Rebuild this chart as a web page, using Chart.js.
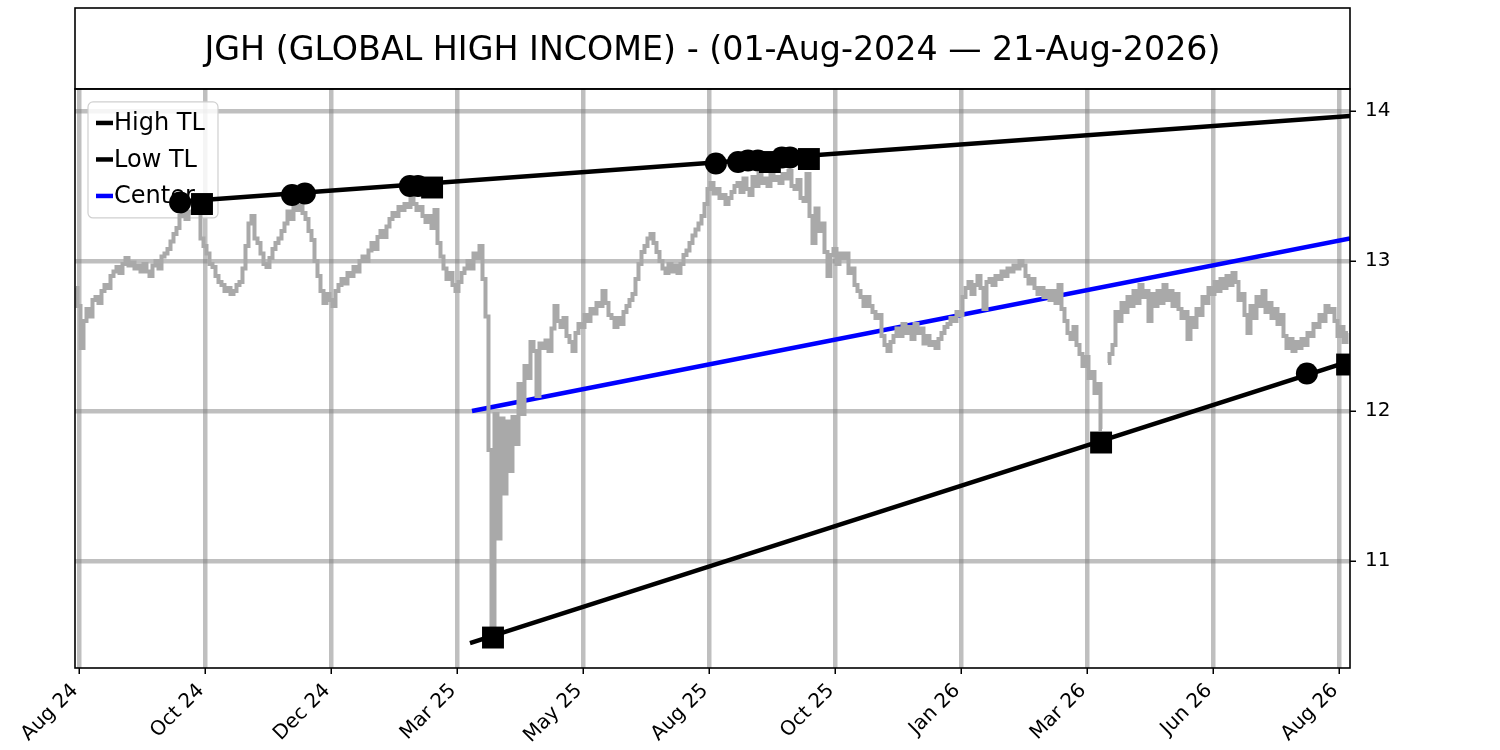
<!DOCTYPE html>
<html>
<head>
<meta charset="utf-8">
<script src="https://cdn.jsdelivr.net/npm/chart.js@4.4.1/dist/chart.umd.min.js"></script>
<style>
  html, body { margin: 0; padding: 0; background: #fff; }
</style>
</head>
<body>
<canvas id="chart" width="1500" height="750"></canvas>
<script>
// session index 0..424, one close per session
const prices = [
  12.82, 12.70, 12.42, 12.60, 12.68, 12.63, 12.74, 12.76, 12.72, 12.80,
  12.84, 12.82, 12.90, 12.93, 12.96, 12.92, 12.98, 13.02, 12.97, 12.99,
  12.95, 12.97, 12.93, 12.98, 12.93, 12.90, 12.97, 13.00, 12.95, 13.03,
  13.05, 13.08, 13.13, 13.18, 13.22, 13.30, 13.38, 13.28, 13.33, 13.32,
  13.38, 13.36, 13.15, 13.10, 13.05, 12.98, 12.96, 12.90, 12.86, 12.84,
  12.80, 12.82, 12.78, 12.80, 12.84, 12.86, 12.95, 13.10, 13.25, 13.30,
  13.15, 13.12, 13.05, 12.98, 12.96, 13.02, 13.08, 13.12, 13.15, 13.20,
  13.25, 13.33, 13.28, 13.36, 13.34, 13.37, 13.32, 13.28, 13.20, 13.14,
  13.00, 12.90, 12.80, 12.72, 12.78, 12.74, 12.70, 12.80, 12.84, 12.88,
  12.85, 12.92, 12.90, 12.96, 12.93, 13.00, 13.03, 13.00, 13.07, 13.12,
  13.08, 13.16, 13.20, 13.16, 13.23, 13.28, 13.32, 13.30, 13.36, 13.34,
  13.38, 13.36, 13.42, 13.38, 13.34, 13.36, 13.30, 13.26, 13.30, 13.22,
  13.34, 13.12, 13.03, 12.95, 12.88, 12.92, 12.84, 12.80, 12.86, 12.92,
  12.95, 13.00, 12.95, 13.05, 13.02, 13.10, 12.88, 12.63, 11.74, 10.54,
  11.98, 11.15, 11.95, 11.45, 11.93, 11.60, 11.96, 11.78, 12.18, 11.98,
  12.30, 12.22, 12.46, 12.40, 12.10, 12.45, 12.42, 12.47, 12.40, 12.55,
  12.70, 12.60, 12.56, 12.62, 12.50, 12.46, 12.40, 12.52, 12.58, 12.56,
  12.64, 12.60, 12.68, 12.65, 12.72, 12.70, 12.80, 12.72, 12.64, 12.62,
  12.56, 12.62, 12.58, 12.66, 12.70, 12.74, 12.78, 12.88, 12.98, 13.06,
  13.10, 13.15, 13.18, 13.12, 13.06, 13.00, 12.95, 12.92, 12.98, 12.93,
  12.97, 12.92, 12.98, 13.04, 13.07, 13.12, 13.17, 13.21, 13.25, 13.30,
  13.38, 13.48, 13.52, 13.45, 13.48, 13.42, 13.44, 13.38, 13.42, 13.46,
  13.50, 13.52, 13.46, 13.55, 13.48, 13.44, 13.56, 13.50, 13.58, 13.52,
  13.55, 13.50, 13.58, 13.54, 13.56, 13.52, 13.58, 13.55, 13.60, 13.50,
  13.48, 13.54, 13.42, 13.40, 13.58, 13.30, 13.12, 13.35, 13.20, 13.25,
  13.06, 12.90, 13.04, 13.08, 12.98, 13.05, 13.02, 13.05, 12.92, 12.95,
  12.84, 12.80, 12.76, 12.70, 12.76, 12.70, 12.66, 12.62, 12.64, 12.50,
  12.44, 12.40, 12.46, 12.50, 12.55, 12.50, 12.58, 12.52, 12.56, 12.48,
  12.58, 12.52, 12.55, 12.45, 12.50, 12.44, 12.46, 12.42, 12.48, 12.52,
  12.56, 12.58, 12.62, 12.60, 12.66, 12.64, 12.76, 12.82, 12.86, 12.78,
  12.84, 12.90, 12.82, 12.68, 12.86, 12.88, 12.84, 12.90, 12.88, 12.93,
  12.90, 12.95, 12.93, 12.97, 12.95, 13.00, 12.97, 12.90, 12.85, 12.88,
  12.82, 12.78, 12.82, 12.76, 12.80, 12.74, 12.80, 12.72, 12.84, 12.68,
  12.60, 12.52, 12.48, 12.56, 12.44, 12.38, 12.30, 12.36, 12.22, 12.26,
  12.12, 12.18, 11.88, null, 12.32, 12.38, 12.44, 12.66, 12.60, 12.72,
  12.66, 12.76, 12.70, 12.80, 12.72, 12.84, 12.76, 12.80, 12.60, 12.78,
  12.70, 12.80, 12.72, 12.84, 12.74, 12.80, 12.70, 12.78, 12.68, 12.62,
  12.66, 12.48, 12.62, 12.56, 12.68, 12.64, 12.76, 12.72, 12.82, 12.78,
  12.86, 12.80, 12.88, 12.82, 12.90, 12.84, 12.92, 12.86, 12.74, 12.78,
  12.64, 12.52, 12.70, 12.62, 12.76, 12.70, 12.80, 12.66, 12.72, 12.62,
  12.68, 12.58, 12.64, 12.50, 12.42, 12.48, 12.40, 12.46, 12.42, 12.48,
  12.44, 12.52, 12.50, 12.58, 12.56, 12.64, 12.60, 12.70, 12.66, 12.68,
  12.60, 12.50, 12.56, 12.46, 12.52
];

const tickPos = [1, 43, 85, 127, 169, 211, 253, 295, 337, 379, 421];
const tickLabels = ["Aug 24", "Oct 24", "Dec 24", "Mar 25", "May 25", "Aug 25",
                    "Oct 25", "Jan 26", "Mar 26", "Jun 26", "Aug 26"];
const yTicks = [11, 12, 13, 14];

// trend lines (start, end)
const highTLx = [32, 424.67];
const highTLy = [13.392, 13.967];
const lowTLx = [131.33, 424.67];
const lowTLy = [10.453, 12.333];
const centerX = [132, 424.67];
const centerY = [12.0, 13.15];

// touch points
const highCircX = [34.7, 72, 76.3, 111.3, 114, 213.3, 220.7, 224, 227.3, 235.3, 238];
const highCircY = [13.39, 13.44, 13.45, 13.50, 13.50, 13.65, 13.66, 13.67, 13.67, 13.69, 13.69];
const highSqX = [42, 118.7, 231.3, 244.3];
const highSqY = [13.38, 13.49, 13.66, 13.68];
const lowCircX = [410.3];
const lowCircY = [12.25];
const lowSqX = [139, 341.7, 423.7];
const lowSqY = [10.49, 11.79, 12.31];

const pts = (xs, ys) => xs.map((x, i) => ({ x: x, y: ys[i] }));

const legendItems = [
  { label: "High TL", color: "#000000" },
  { label: "Low TL", color: "#000000" },
  { label: "Center", color: "#0000ff" },
];

const FONT = "'DejaVu Sans', sans-serif";

const framePlugin = {
  id: "frame",
  beforeDatasetsDraw(chart) {
    // legend sits under the series
    const ctx = chart.ctx;
    const a = chart.chartArea;
    const bx = a.left + 13, by = a.top + 13, bw = 130, bh = 116;
    ctx.save();
    ctx.beginPath();
    ctx.roundRect(bx, by, bw, bh, 5);
    ctx.fillStyle = "rgba(255,255,255,0.85)";
    ctx.fill();
    ctx.strokeStyle = "#d0d0d0";
    ctx.lineWidth = 1.2;
    ctx.stroke();
    ctx.font = "24px " + FONT;
    ctx.textBaseline = "middle";
    legendItems.forEach((it, i) => {
      const y = by + 21 + i * 36.5;
      ctx.strokeStyle = it.color;
      ctx.lineWidth = 4.5;
      ctx.beginPath();
      ctx.moveTo(bx + 8, y);
      ctx.lineTo(bx + 25, y);
      ctx.stroke();
      ctx.fillStyle = "#000";
      ctx.fillText(it.label, bx + 26, y + 1);
    });
    ctx.restore();
  },
  afterDraw(chart) {
    const ctx = chart.ctx;
    const a = chart.chartArea;
    ctx.save();
    ctx.strokeStyle = "#000";
    ctx.lineWidth = 1.6;
    ctx.strokeRect(a.left, 8, a.right - a.left, a.top - 8);
    ctx.strokeRect(a.left, a.top, a.right - a.left, a.bottom - a.top);
    ctx.restore();
  },
};

new Chart(document.getElementById("chart").getContext("2d"), {
  type: "line",
  data: {
    datasets: [
      {
        label: "High TL",
        data: pts(highTLx, highTLy),
        borderColor: "#000000",
        borderWidth: 4.5,
        pointRadius: 0,
        order: 3,
      },
      {
        label: "Low TL",
        data: pts(lowTLx, lowTLy),
        borderColor: "#000000",
        borderWidth: 4.5,
        pointRadius: 0,
        order: 3,
      },
      {
        label: "Center",
        data: pts(centerX, centerY),
        borderColor: "#0000ff",
        borderWidth: 4.5,
        pointRadius: 0,
        order: 3,
      },
      {
        label: "Price",
        data: prices.map((v, i) => ({ x: i, y: v })),
        borderColor: "#a9a9a9",
        borderWidth: 4,
        pointRadius: 0,
        stepped: "middle",
        spanGaps: false,
        order: 2,
      },
      {
        label: "High touches",
        data: pts(highCircX, highCircY),
        showLine: false,
        pointStyle: "circle",
        pointRadius: 11,
        pointBorderWidth: 0,
        pointBackgroundColor: "#000",
        order: 1,
      },
      {
        label: "High touches 2",
        data: pts(highSqX, highSqY),
        showLine: false,
        pointStyle: "rect",
        pointRadius: 15.5,
        pointBorderWidth: 0,
        pointBackgroundColor: "#000",
        order: 1,
      },
      {
        label: "Low touches",
        data: pts(lowCircX, lowCircY),
        showLine: false,
        pointStyle: "circle",
        pointRadius: 11,
        pointBorderWidth: 0,
        pointBackgroundColor: "#000",
        order: 1,
      },
      {
        label: "Low touches 2",
        data: pts(lowSqX, lowSqY),
        showLine: false,
        pointStyle: "rect",
        pointRadius: 15.5,
        pointBorderWidth: 0,
        pointBackgroundColor: "#000",
        order: 1,
      },
    ],
  },
  options: {
    responsive: false,
    animation: false,
    devicePixelRatio: 1,
    layout: { padding: { left: 75, top: 0, right: 0, bottom: 0 } },
    scales: {
      x: {
        type: "linear",
        min: -0.33,
        max: 424.67,
        afterBuildTicks: (scale) => {
          scale.ticks = tickPos.map((v) => ({ value: v }));
        },
        afterFit: (scale) => {
          scale.height = 82;
        },
        ticks: {
          minRotation: 45,
          maxRotation: 45,
          autoSkip: false,
          color: "#000",
          padding: 5,
          labelOffset: -4,
          font: { family: FONT, size: 20 },
          callback: (v) => tickLabels[tickPos.indexOf(v)],
        },
        grid: {
          color: "rgba(128,128,128,0.5)",
          lineWidth: 4.5,
          tickColor: "#000",
          tickWidth: 1.5,
          tickLength: 6,
        },
        border: { display: false },
      },
      y: {
        position: "right",
        min: 10.287,
        max: 14.147,
        afterBuildTicks: (scale) => {
          scale.ticks = yTicks.map((v) => ({ value: v }));
        },
        afterFit: (scale) => {
          scale.width = 150;
        },
        ticks: {
          color: "#000",
          padding: 9,
          font: { family: FONT, size: 20 },
        },
        grid: {
          color: "rgba(128,128,128,0.5)",
          lineWidth: 4.5,
          tickColor: "#000",
          tickWidth: 1.5,
          tickLength: 6,
        },
        border: { display: false },
      },
    },
    plugins: {
      legend: { display: false },
      tooltip: { enabled: false },
      title: {
        display: true,
        fullSize: false,
        text: "JGH (GLOBAL HIGH INCOME) - (01-Aug-2024 \u2014 21-Aug-2026)",
        color: "#000",
        font: { family: FONT, size: 33.3, weight: "normal", lineHeight: 1.2 },
        padding: { top: 31.5, bottom: 17.5 },
      },
    },
  },
  plugins: [framePlugin],
});
</script>
</body>
</html>
